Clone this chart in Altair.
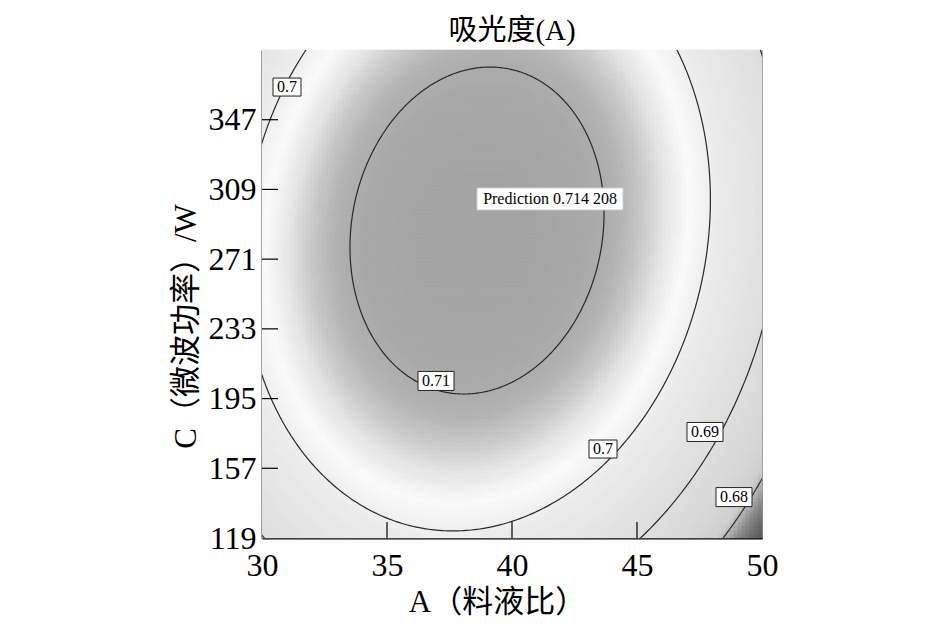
import numpy as np
import pandas as pd
import altair as alt

# ---------------- data ----------------
a_ticks = [30, 35, 40, 45, 50]
c_ticks = [119, 157, 195, 233, 271, 309, 347]
a_domain = [30, 50]
c_domain = [119, 385]

# fitted quadratic response surface, coded units p=(A-30)/20, q=(C-119)/266
peak_value = 0.714208
peak_p = 0.43
peak_q = 0.63
coef_pp = 0.0659
coef_qq = 0.0379
coef_pq = 0.00514

contour_levels = [0.68, 0.69, 0.70, 0.71]

label_text = ["0.7", "0.71", "0.7", "0.69", "0.68"]
label_a = [31.0, 36.96, 43.64, 47.72, 48.88]
label_c = [364.8, 204.6, 167.5, 176.8, 141.3]

pred_text = ["Prediction 0.714 208"]
pred_a = [41.52]
pred_c = [303.8]

shade_values = [0.6735, 0.676, 0.678, 0.6795, 0.681, 0.685, 0.690, 0.695,
                0.700, 0.7025, 0.705, 0.707, 0.709, 0.711, 0.7145]
shade_grays = ["#555555", "#6c6c6c", "#8c8c8c", "#b0b0b0", "#cfcfcf", "#d9d9d9",
               "#dedede", "#e5e5e5", "#efefef", "#fbfbfb", "#e6e6e6", "#cacaca",
               "#b2b2b2", "#a9a9a9", "#a3a3a3"]

SERIF = "Liberation Serif, Noto Sans CJK SC"


def surface(p, q):
    dp = p - peak_p
    dq = q - peak_q
    return peak_value - (coef_pp * dp ** 2 + coef_qq * dq ** 2 - 2 * coef_pq * dp * dq)


# ---------------- grid ----------------
nx, ny = 125, 122
pe = np.linspace(0, 1, nx + 1)
qe = np.linspace(0, 1, ny + 1)
pc = (pe[:-1] + pe[1:]) / 2
qc = (qe[:-1] + qe[1:]) / 2
PP, QQ = np.meshgrid(pc, qc)
P0, Q0 = np.meshgrid(pe[:-1], qe[:-1])
P1, Q1 = np.meshgrid(pe[1:], qe[1:])
grid = pd.DataFrame({
    "A": np.round(30 + 20 * P0.ravel(), 4),
    "A2": np.round(30 + 20 * P1.ravel(), 4),
    "C": np.round(119 + 266 * Q0.ravel(), 3),
    "C2": np.round(119 + 266 * Q1.ravel(), 3),
    "v": np.round(surface(PP, QQ).ravel(), 6),
})

# ---------------- contours ----------------
rows = []
theta = np.linspace(0, 2 * np.pi, 721)
u = np.cos(theta)
w = np.sin(theta)
quad = coef_pp * u ** 2 + coef_qq * w ** 2 - 2 * coef_pq * u * w
for lev in contour_levels:
    t = np.sqrt((peak_value - lev) / quad)
    p = peak_p + t * u
    q = peak_q + t * w
    for i in range(len(theta)):
        rows.append({"level": str(lev), "i": i, "A": 30 + 20 * p[i], "C": 119 + 266 * q[i]})
cont = pd.DataFrame(rows)

xs = alt.Scale(domain=a_domain, nice=False, zero=False)
ys = alt.Scale(domain=c_domain, nice=False, zero=False)
cscale = alt.Scale(domain=shade_values, range=shade_grays, interpolate="rgb")

heat = alt.Chart(grid).mark_rect(strokeWidth=0.6).encode(
    x=alt.X("A:Q", scale=xs,
            axis=alt.Axis(values=a_ticks, title="A（料液比）", tickSize=0, labelPadding=12,
                          labelFont="Liberation Serif", labelFontSize=32, labelColor="black",
                          labelFlush=False, labelOverlap=False,
                          titleFont=SERIF, titleFontSize=31, titleFontWeight="normal",
                          titleColor="black", titleX=235, titleY=64, titleBaseline="middle",
                          domainColor="black", domainWidth=2, grid=False)),
    x2="A2:Q",
    y=alt.Y("C:Q", scale=ys,
            axis=alt.Axis(values=c_ticks, title="C（微波功率）/W", tickSize=0, labelPadding=6,
                          labelFont="Liberation Serif", labelFontSize=32, labelColor="black",
                          labelFlush=False, labelOverlap=False,
                          titleFont=SERIF, titleFontSize=31, titleFontWeight="normal",
                          titleColor="black", titleX=-76, titleY=276, titleAngle=-90,
                          titleBaseline="middle", titleAlign="center",
                          domainColor="black", domainWidth=2, grid=False)),
    y2="C2:Q",
    fill=alt.Fill("v:Q", scale=cscale, legend=None),
    stroke=alt.Stroke("v:Q", scale=cscale, legend=None),
)

lines = alt.Chart(cont).mark_line(color="#2a2a2a", strokeWidth=1.2, clip=True).encode(
    x=alt.X("A:Q", scale=xs),
    y=alt.Y("C:Q", scale=ys),
    detail="level:N",
    order="i:Q",
)

xt = alt.Chart(pd.DataFrame({"A": a_ticks[1:-1]})).mark_rule(color="black", strokeWidth=1.2).encode(
    x=alt.X("A:Q", scale=xs), y=alt.value(488), y2=alt.value(472))
yt = alt.Chart(pd.DataFrame({"C": c_ticks[1:]})).mark_rule(color="black", strokeWidth=1.2).encode(
    y=alt.Y("C:Q", scale=ys), x=alt.value(0), x2=alt.value(16))

lab = pd.DataFrame({"t": label_text, "A": label_a, "C": label_c})
lab_short = lab[lab.t.str.len() == 3]
lab_long = lab[lab.t.str.len() == 4]
box_s = alt.Chart(lab_short).mark_rect(width=28, height=18, fill="white", stroke="#222", strokeWidth=1).encode(
    x=alt.X("A:Q", scale=xs), y=alt.Y("C:Q", scale=ys))
box_l = alt.Chart(lab_long).mark_rect(width=36, height=19, fill="white", stroke="#222", strokeWidth=1).encode(
    x=alt.X("A:Q", scale=xs), y=alt.Y("C:Q", scale=ys))
txt = alt.Chart(lab).mark_text(font="Liberation Serif", fontSize=16, color="black", baseline="middle").encode(
    x=alt.X("A:Q", scale=xs), y=alt.Y("C:Q", scale=ys), text="t:N")

pred = pd.DataFrame({"t": pred_text, "A": pred_a, "C": pred_c})
pbox = alt.Chart(pred).mark_rect(width=146, height=22, fill="white", stroke="#ccc", strokeWidth=1).encode(
    x=alt.X("A:Q", scale=xs), y=alt.Y("C:Q", scale=ys))
ptxt = alt.Chart(pred).mark_text(font="Liberation Serif", fontSize=16, color="black", baseline="middle").encode(
    x=alt.X("A:Q", scale=xs), y=alt.Y("C:Q", scale=ys), text="t:N")

chart = alt.layer(heat, lines, xt, yt, box_s, box_l, txt, pbox, ptxt).properties(
    width=500, height=488,
    padding={"left": 254, "top": 42, "right": 175, "bottom": 92},
    autosize=alt.AutoSizeParams(type="none"),
    title=alt.TitleParams("吸光度(A)", font=SERIF, fontSize=29, fontWeight="normal",
                          color="black", anchor="middle", offset=4),
).configure_view(stroke="#8c8c8c", strokeWidth=1)

chart.save("out.html", embed_options={"renderer": "svg", "actions": False})
